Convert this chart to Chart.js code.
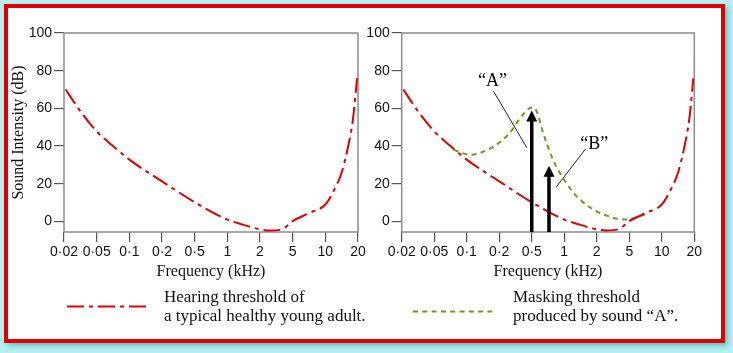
<!DOCTYPE html>
<html>
<head>
<meta charset="utf-8">
<script src="https://cdn.jsdelivr.net/npm/chart.js@4.4.1/dist/chart.umd.min.js"></script>
<style>
  html, body { margin: 0; padding: 0; }
  body { width: 733px; height: 353px; background: #b6f0f0; position: relative; overflow: hidden; font-family: 'Liberation Serif', serif; color: #111; }
  #frame { position: absolute; left: 4px; top: 4px; width: 713px; height: 331px; border: 4px solid #e00000; background: #fff; box-shadow: 3px 3px 5px #66c4c4; }
  canvas { position: absolute; top: 0; }
  #leftChart { left: 0; }
  #rightChart { left: 340px; }
  .key { position: absolute; font-size: 17px; line-height: 18.5px; white-space: nowrap; }
  #keys { position: absolute; left: 0; top: 0; }
</style>
</head>
<body>
<div id="frame"></div>
<canvas id="leftChart" width="372" height="290"></canvas>
<canvas id="rightChart" width="372" height="290"></canvas>
<svg id="keys" width="733" height="353">
  <line x1="67" y1="306.5" x2="148" y2="306.5" stroke="#e00000" stroke-width="2" stroke-dasharray="17 5 4 5"/>
  <line x1="413" y1="311.5" x2="495" y2="311.5" stroke="#6a9a1e" stroke-width="2" stroke-dasharray="5 4.3"/>
</svg>
<div class="key" style="left:164px; top:288px">Hearing threshold of<br>a typical healthy young adult.</div>
<div class="key" style="left:513px; top:288px">Masking threshold<br>produced by sound “A”.</div>
<script>
// x positions are tick positions on the axis: 0 = 0·02 kHz ... 9 = 20 kHz
const freqLabels = ['0·02', '0·05', '0·1', '0·2', '0·5', '1', '2', '5', '10', '20'];
const dbTicks = [0, 20, 40, 60, 80, 100];

const hearingPos = [0.05, 0.5, 1, 1.5, 2, 3, 4, 5, 5.5, 6, 6.3, 6.7, 7, 7.5, 8, 8.25, 8.5, 8.7, 8.85, 8.97];
const hearingDb  = [70, 58.5, 47.8, 40, 32.8, 21.3, 10.2, 1, -1.8, -4.2, -4.8, -3.9, 0.2, 4.4, 9, 16, 26, 40, 55, 76];

const maskingPos = [1.6, 2.1, 2.8, 3.3, 3.7, 4.0, 4.15, 4.35, 4.65, 5.0, 5.4, 5.9, 6.5, 6.85, 7.2, 7.55];
const maskingDb  = [38, 35.4, 39.5, 46.5, 56, 60.5, 58.5, 47, 33, 22, 13, 6.3, 2, 1, 2, 4.3];

const arrowPos = [4, 4.53];
const arrowDb  = [58.9, 29.6];

const labelText = ['“A”', '“B”'];
const labelPos  = [2.79, 5.92];
const labelDb   = [74.5, 40.9];
const leaderPos = [[2.82, 3.85], [5.66, 4.75]];
const leaderDb  = [[69.2, 39.1], [38.6, 18.2]];

const framePlugin = {
  id: 'frame',
  beforeDatasetsDraw(chart) {
    const { ctx, chartArea: a } = chart;
    ctx.save();
    ctx.strokeStyle = '#8c8c8c';
    ctx.lineWidth = 1.5;
    ctx.strokeRect(a.left, a.top, a.right - a.left, a.bottom - a.top);
    ctx.restore();
  }
};

const markPlugin = {
  id: 'marks',
  afterDatasetsDraw(chart) {
    const { ctx } = chart;
    const xs = chart.scales.x, ys = chart.scales.y;
    ctx.save();
    ctx.fillStyle = '#000';
    arrowPos.forEach((p, i) => {
      const px = xs.getPixelForValue(p);
      const tip = ys.getPixelForValue(arrowDb[i]);
      const head = 11;
      ctx.fillRect(px - 1.75, tip + head - 1, 3.5, ys.bottom - (tip + head - 1));
      ctx.beginPath();
      ctx.moveTo(px, tip);
      ctx.lineTo(px - 5.5, tip + head);
      ctx.lineTo(px + 5.5, tip + head);
      ctx.closePath();
      ctx.fill();
    });
    ctx.font = '18px "Liberation Serif"';
    ctx.textAlign = 'center';
    ctx.textBaseline = 'middle';
    labelText.forEach((t, i) => {
      ctx.fillText(t, xs.getPixelForValue(labelPos[i]), ys.getPixelForValue(labelDb[i]));
    });
    ctx.restore();
  }
};

function makeChart(id, right) {
  const datasets = [{
    data: hearingPos.map((x, i) => ({ x, y: hearingDb[i] })),
    borderColor: '#e00000',
    borderWidth: 2,
    borderDash: [17, 5, 4, 5],
    pointRadius: 0,
    cubicInterpolationMode: 'monotone',
    fill: false
  }];
  if (right) {
    datasets.push({
      data: maskingPos.map((x, i) => ({ x, y: maskingDb[i] })),
      borderColor: '#6a9a1e',
      borderWidth: 2,
      borderDash: [5, 4.3],
      pointRadius: 0,
      cubicInterpolationMode: 'monotone',
      fill: false
    });
    leaderPos.forEach((xs, i) => {
      datasets.push({
        data: xs.map((x, j) => ({ x, y: leaderDb[i][j] })),
        borderColor: '#222',
        borderWidth: 1,
        pointRadius: 0,
        fill: false
      });
    });
  }

  const tickGrid = { drawOnChartArea: false, drawTicks: true, tickLength: 10, color: '#555', lineWidth: 1.2 };

  return new Chart(document.getElementById(id), {
    type: 'line',
    data: { datasets },
    options: {
      responsive: false,
      animation: false,
      plugins: { legend: { display: false }, tooltip: { enabled: false } },
      layout: { padding: { top: 33, right: right ? 17.7 : 14, left: 0, bottom: 0 } },
      scales: {
        x: {
          type: 'linear',
          min: 0,
          max: 9,
          afterBuildTicks: s => { s.ticks = freqLabels.map((_, i) => ({ value: i })); },
          afterFit: s => { s.height = 58; s.paddingLeft = 0; s.paddingRight = 0; },
          grid: tickGrid,
          border: { display: false },
          ticks: {
            callback: v => freqLabels[v],
            color: '#111',
            font: { family: 'Liberation Sans', size: 14 },
            padding: 2,
            maxRotation: 0,
            autoSkip: false
          },
          title: {
            display: true,
            text: 'Frequency (kHz)',
            color: '#111',
            font: { family: 'Liberation Serif', size: 16 },
            padding: { top: 0, bottom: 9 }
          }
        },
        y: {
          min: -5.6,
          max: 100,
          afterBuildTicks: s => { s.ticks = dbTicks.map(v => ({ value: v })); },
          afterFit: s => { s.width = right ? 61.7 : 64; },
          grid: tickGrid,
          border: { display: false },
          ticks: {
            color: '#111',
            font: { family: 'Liberation Sans', size: 14 },
            padding: 2
          },
          title: {
            display: !right,
            text: 'Sound Intensity (dB)',
            color: '#111',
            font: { family: 'Liberation Serif', size: 16 },
            padding: { top: 9, bottom: 0 }
          }
        }
      }
    },
    plugins: right ? [framePlugin, markPlugin] : [framePlugin]
  });
}

makeChart('leftChart', false);
makeChart('rightChart', true);
</script>
</body>
</html>
